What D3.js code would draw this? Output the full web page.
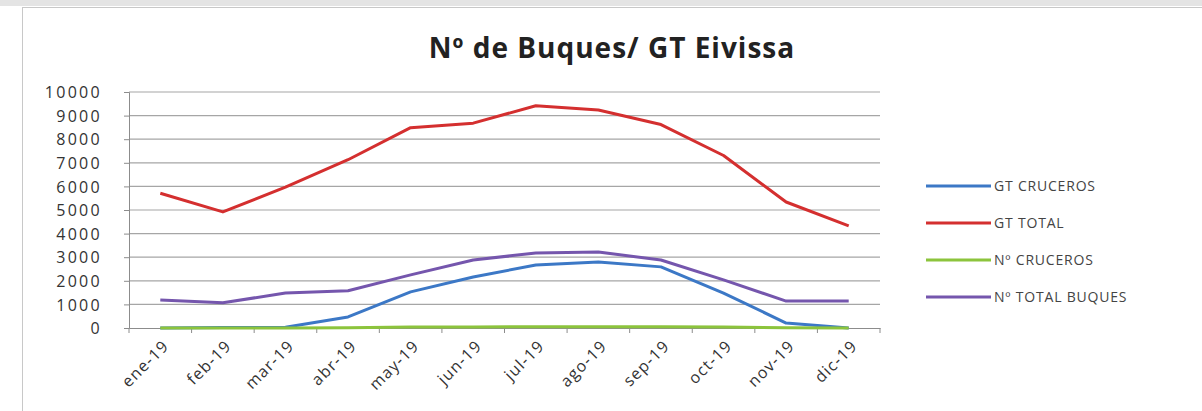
<!DOCTYPE html>
<html><head><meta charset="utf-8">
<script src="https://d3js.org/d3.v7.min.js"></script>
<style>
  body { margin: 0; background: #fff; }
  text { font-family: "Open Sans", "Liberation Sans", sans-serif; }
</style>
</head>
<body>
<div id="chart"></div>
<script>
var months = ["ene-19","feb-19","mar-19","abr-19","may-19","jun-19","jul-19","ago-19","sep-19","oct-19","nov-19","dic-19"];
var gtCruceros   = [0, 20, 30, 470, 1530, 2160, 2670, 2800, 2590, 1480, 210, 0];
var gtTotal      = [5710, 4920, 5970, 7130, 8490, 8680, 9420, 9240, 8620, 7310, 5340, 4330];
var nCruceros    = [1, 2, 3, 12, 38, 46, 52, 55, 50, 38, 8, 1];
var nTotalBuques = [1190, 1070, 1480, 1580, 2250, 2880, 3180, 3220, 2880, 2040, 1140, 1140];
var yTicks = [0,1000,2000,3000,4000,5000,6000,7000,8000,9000,10000];

var series = [
  {name: "GT CRUCEROS", values: gtCruceros, color: "#3c78c6"},
  {name: "GT TOTAL", values: gtTotal, color: "#d42f2f"},
  {name: "Nº CRUCEROS", values: nCruceros, color: "#8cc43c"},
  {name: "Nº TOTAL BUQUES", values: nTotalBuques, color: "#7556ad"}
];

var width = 1202, height = 411;
var svg = d3.select("#chart").append("svg")
  .attr("width", width).attr("height", height);

// spreadsheet strip + chart frame
svg.append("rect").attr("x", 0).attr("y", 0).attr("width", width).attr("height", 6).attr("fill", "#e4e4e4");
svg.append("rect").attr("x", 22.5).attr("y", 7.5).attr("width", 1200).attr("height", 420)
  .attr("fill", "#fff").attr("stroke", "#c8c8c8");

svg.append("text")
  .attr("x", 612).attr("y", 58)
  .attr("text-anchor", "middle")
  .style("font-size", "28px").style("font-weight", "bold").style("fill", "#222")
  .style("letter-spacing", "1px")
  .text("Nº de Buques/ GT Eivissa");

var pLeft = 129, pRight = 880, pTop = 92, pBottom = 328;

var x = d3.scalePoint().domain(months).range([pLeft, pRight]).padding(0.5);
var y = d3.scaleLinear().domain([0, 10000]).range([pBottom, pTop]);

// gridlines
svg.append("g").selectAll("line").data(yTicks.slice(1)).enter().append("line")
  .attr("x1", pLeft).attr("x2", pRight)
  .attr("y1", function(d){ return y(d); }).attr("y2", function(d){ return y(d); })
  .attr("stroke", "#a6a6a6").attr("stroke-width", 1.2);

// y axis
var yAxis = svg.append("g").attr("transform", "translate(" + pLeft + ",0)")
  .call(d3.axisLeft(y).tickValues(yTicks).tickSize(5).tickPadding(22).tickFormat(d3.format("d")));
yAxis.select(".domain").attr("stroke", "#8c8c8c");
yAxis.selectAll(".tick line").attr("stroke", "#8c8c8c");
yAxis.selectAll("text").style("font-size", "16px").style("fill", "#333")
  .style("letter-spacing", "2.3px").attr("dy", "0.35em");

// x axis
var step = x.step();
var xAxis = svg.append("g").attr("transform", "translate(0," + pBottom + ")")
  .call(d3.axisBottom(x).tickSize(0).tickPadding(0));
xAxis.select(".domain").attr("stroke", "#8c8c8c");
xAxis.selectAll(".tick line").remove();
svg.append("g").selectAll("line").data(months).enter().append("line")
  .attr("x1", function(d){ return x(d) - step / 2; }).attr("x2", function(d){ return x(d) - step / 2; })
  .attr("y1", pBottom).attr("y2", pBottom + 5).attr("stroke", "#8c8c8c");
svg.append("line").attr("x1", pRight).attr("x2", pRight).attr("y1", pBottom).attr("y2", pBottom + 5).attr("stroke", "#8c8c8c");
xAxis.selectAll("text")
  .style("font-size", "16px").style("fill", "#333")
  .style("letter-spacing", "1.2px")
  .attr("text-anchor", "end")
  .attr("dy", 0)
  .attr("transform", "translate(9,19) rotate(-45)");

// lines
var line = d3.line()
  .x(function(d, i){ return x(months[i]); })
  .y(function(d){ return y(d); });

svg.append("g").selectAll("path").data(series).enter().append("path")
  .attr("d", function(s){ return line(s.values); })
  .attr("fill", "none")
  .attr("stroke", function(s){ return s.color; })
  .attr("stroke-width", 3)
  .attr("stroke-linejoin", "round");

// legend
var legend = svg.append("g").selectAll("g").data(series).enter().append("g")
  .attr("transform", function(s, i){ return "translate(926," + (186 + i * 37) + ")"; });
legend.append("line").attr("x1", 0).attr("x2", 65).attr("y1", 0).attr("y2", 0)
  .attr("stroke", function(s){ return s.color; }).attr("stroke-width", 3);
legend.append("text").attr("x", 68).attr("y", 0).attr("dy", "0.35em")
  .style("font-size", "14px").style("fill", "#444").style("letter-spacing", "0.8px")
  .text(function(s){ return s.name; });
</script>
</body></html>
